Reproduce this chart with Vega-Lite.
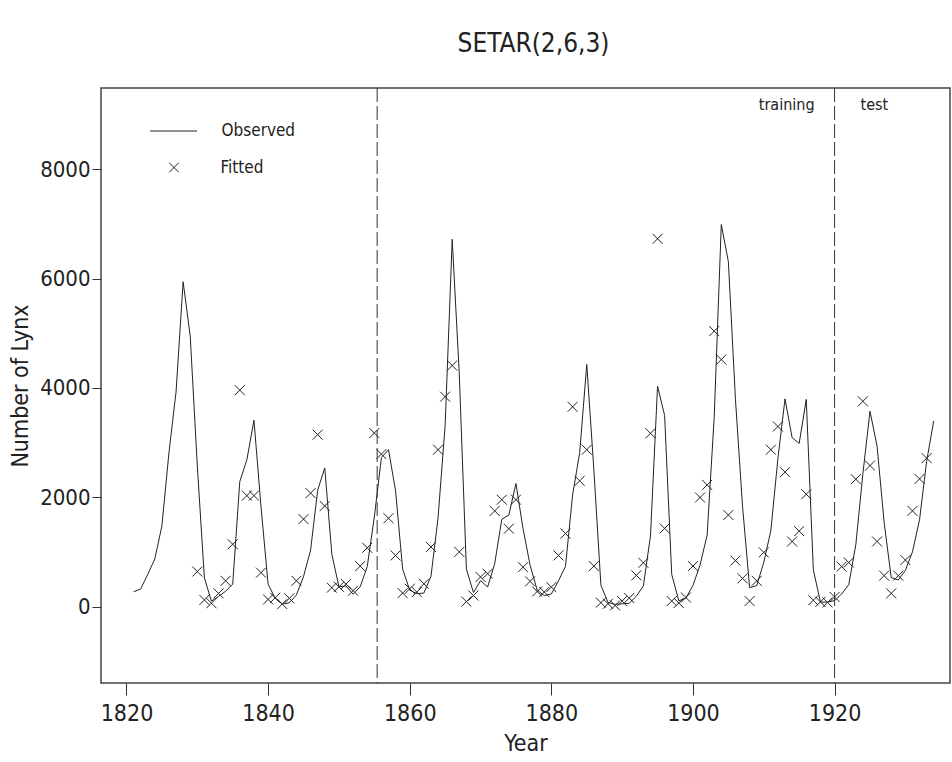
{
  "$schema": "https://vega.github.io/schema/vega-lite/v6.json",
  "width": 849,
  "height": 595,
  "autosize": {"type": "none"},
  "padding": {"left": 101, "top": 88, "right": 2, "bottom": 79},
  "background": "white",
  "title": {"text": "SETAR(2,6,3)", "fontSize": 26, "font": "DejaVu Sans Condensed, sans-serif", "fontWeight": "normal", "color": "#222", "offset": 31, "anchor": "middle", "dx": 8},
  "config": {
    "font": "DejaVu Sans Condensed, sans-serif",
    "view": {"stroke": "#444", "strokeWidth": 1.5},
    "axis": {"grid": false, "domain": false, "tickColor": "#333", "labelColor": "#222", "titleColor": "#222", "titleFontWeight": "normal"}
  },
  "datasets": {
    "lynx": [
      {"year": 1821, "observed": 269, "fitted": null},
      {"year": 1822, "observed": 321, "fitted": null},
      {"year": 1823, "observed": 585, "fitted": null},
      {"year": 1824, "observed": 871, "fitted": null},
      {"year": 1825, "observed": 1475, "fitted": null},
      {"year": 1826, "observed": 2821, "fitted": null},
      {"year": 1827, "observed": 3928, "fitted": null},
      {"year": 1828, "observed": 5943, "fitted": null},
      {"year": 1829, "observed": 4950, "fitted": null},
      {"year": 1830, "observed": 2577, "fitted": 640},
      {"year": 1831, "observed": 523, "fitted": 120},
      {"year": 1832, "observed": 98, "fitted": 60},
      {"year": 1833, "observed": 184, "fitted": 240},
      {"year": 1834, "observed": 279, "fitted": 470},
      {"year": 1835, "observed": 409, "fitted": 1140},
      {"year": 1836, "observed": 2285, "fitted": 3960},
      {"year": 1837, "observed": 2685, "fitted": 2030},
      {"year": 1838, "observed": 3409, "fitted": 2030},
      {"year": 1839, "observed": 1824, "fitted": 620},
      {"year": 1840, "observed": 409, "fitted": 130},
      {"year": 1841, "observed": 151, "fitted": 160},
      {"year": 1842, "observed": 45, "fitted": 45},
      {"year": 1843, "observed": 68, "fitted": 150},
      {"year": 1844, "observed": 213, "fitted": 470},
      {"year": 1845, "observed": 546, "fitted": 1600},
      {"year": 1846, "observed": 1033, "fitted": 2075},
      {"year": 1847, "observed": 2129, "fitted": 3145},
      {"year": 1848, "observed": 2536, "fitted": 1840},
      {"year": 1849, "observed": 957, "fitted": 345},
      {"year": 1850, "observed": 361, "fitted": 360},
      {"year": 1851, "observed": 377, "fitted": 410},
      {"year": 1852, "observed": 225, "fitted": 290},
      {"year": 1853, "observed": 360, "fitted": 740},
      {"year": 1854, "observed": 731, "fitted": 1075},
      {"year": 1855, "observed": 1638, "fitted": 3175},
      {"year": 1856, "observed": 2725, "fitted": 2790},
      {"year": 1857, "observed": 2871, "fitted": 1615},
      {"year": 1858, "observed": 2119, "fitted": 935},
      {"year": 1859, "observed": 684, "fitted": 245},
      {"year": 1860, "observed": 299, "fitted": 325},
      {"year": 1861, "observed": 236, "fitted": 265},
      {"year": 1862, "observed": 245, "fitted": 415},
      {"year": 1863, "observed": 552, "fitted": 1090},
      {"year": 1864, "observed": 1623, "fitted": 2870},
      {"year": 1865, "observed": 3311, "fitted": 3840},
      {"year": 1866, "observed": 6721, "fitted": 4410},
      {"year": 1867, "observed": 4254, "fitted": 1000},
      {"year": 1868, "observed": 687, "fitted": 90},
      {"year": 1869, "observed": 255, "fitted": 200},
      {"year": 1870, "observed": 473, "fitted": 540},
      {"year": 1871, "observed": 358, "fitted": 600},
      {"year": 1872, "observed": 784, "fitted": 1750},
      {"year": 1873, "observed": 1594, "fitted": 1955},
      {"year": 1874, "observed": 1676, "fitted": 1425},
      {"year": 1875, "observed": 2251, "fitted": 1955},
      {"year": 1876, "observed": 1426, "fitted": 720},
      {"year": 1877, "observed": 756, "fitted": 460},
      {"year": 1878, "observed": 299, "fitted": 275},
      {"year": 1879, "observed": 201, "fitted": 265},
      {"year": 1880, "observed": 229, "fitted": 355},
      {"year": 1881, "observed": 469, "fitted": 935},
      {"year": 1882, "observed": 736, "fitted": 1335},
      {"year": 1883, "observed": 2042, "fitted": 3655},
      {"year": 1884, "observed": 2811, "fitted": 2300},
      {"year": 1885, "observed": 4431, "fitted": 2870},
      {"year": 1886, "observed": 2511, "fitted": 740},
      {"year": 1887, "observed": 389, "fitted": 70},
      {"year": 1888, "observed": 73, "fitted": 50},
      {"year": 1889, "observed": 39, "fitted": 20},
      {"year": 1890, "observed": 49, "fitted": 100},
      {"year": 1891, "observed": 59, "fitted": 155},
      {"year": 1892, "observed": 188, "fitted": 570},
      {"year": 1893, "observed": 377, "fitted": 800},
      {"year": 1894, "observed": 1292, "fitted": 3170},
      {"year": 1895, "observed": 4031, "fitted": 6730},
      {"year": 1896, "observed": 3495, "fitted": 1430},
      {"year": 1897, "observed": 587, "fitted": 100},
      {"year": 1898, "observed": 105, "fitted": 65},
      {"year": 1899, "observed": 153, "fitted": 165},
      {"year": 1900, "observed": 387, "fitted": 740},
      {"year": 1901, "observed": 758, "fitted": 1995},
      {"year": 1902, "observed": 1307, "fitted": 2225},
      {"year": 1903, "observed": 3465, "fitted": 5040},
      {"year": 1904, "observed": 6991, "fitted": 4520},
      {"year": 1905, "observed": 6313, "fitted": 1675},
      {"year": 1906, "observed": 3794, "fitted": 840},
      {"year": 1907, "observed": 1836, "fitted": 515},
      {"year": 1908, "observed": 345, "fitted": 100},
      {"year": 1909, "observed": 382, "fitted": 470},
      {"year": 1910, "observed": 808, "fitted": 990},
      {"year": 1911, "observed": 1388, "fitted": 2870},
      {"year": 1912, "observed": 2713, "fitted": 3295},
      {"year": 1913, "observed": 3800, "fitted": 2460},
      {"year": 1914, "observed": 3091, "fitted": 1190},
      {"year": 1915, "observed": 2985, "fitted": 1380},
      {"year": 1916, "observed": 3790, "fitted": 2055},
      {"year": 1917, "observed": 674, "fitted": 115},
      {"year": 1918, "observed": 81, "fitted": 85},
      {"year": 1919, "observed": 80, "fitted": 75},
      {"year": 1920, "observed": 108, "fitted": 175},
      {"year": 1921, "observed": 229, "fitted": 730},
      {"year": 1922, "observed": 399, "fitted": 805},
      {"year": 1923, "observed": 1132, "fitted": 2330},
      {"year": 1924, "observed": 2432, "fitted": 3755},
      {"year": 1925, "observed": 3574, "fitted": 2580},
      {"year": 1926, "observed": 2935, "fitted": 1190},
      {"year": 1927, "observed": 1537, "fitted": 565},
      {"year": 1928, "observed": 529, "fitted": 240},
      {"year": 1929, "observed": 485, "fitted": 565},
      {"year": 1930, "observed": 662, "fitted": 850},
      {"year": 1931, "observed": 1000, "fitted": 1750},
      {"year": 1932, "observed": 1590, "fitted": 2335},
      {"year": 1933, "observed": 2657, "fitted": 2715},
      {"year": 1934, "observed": 3396, "fitted": null}
    ],
    "splits": [{"year": 1855.4}, {"year": 1920}],
    "annot": [
      {"label": "training", "year": 1920, "level": 9080},
      {"label": "test", "year": 1920, "level": 9080}
    ]
  },
  "layer": [
    {
      "data": {"name": "lynx"},
      "mark": {"type": "line", "strokeWidth": 1, "color": "#222"},
      "encoding": {
        "x": {"field": "year", "type": "quantitative", "scale": {"domain": [1816.4, 1936.3], "nice": false, "zero": false},
          "axis": {"title": "Year", "values": [1820, 1840, 1860, 1880, 1900, 1920], "format": "d", "tickSize": 12, "labelPadding": 7, "labelFontSize": 23, "titleFontSize": 23, "titlePadding": 7}},
        "y": {"field": "observed", "type": "quantitative", "scale": {"domain": [-1400, 9490], "nice": false, "zero": false},
          "axis": {"title": "Number of Lynx", "values": [0, 2000, 4000, 6000, 8000], "format": "d", "tickSize": 9, "labelPadding": 2, "labelFontSize": 22, "titleFontSize": 23, "titlePadding": 7}},
        "stroke": {"datum": "Observed", "scale": {"domain": ["Observed"], "range": ["#222"]},
          "legend": {"title": null, "orient": "none", "legendX": 48.5, "legendY": 19, "padding": 0, "symbolSize": 2209, "symbolStrokeWidth": 1, "symbolType": "stroke", "labelFontSize": 17, "labelOffset": 24, "labelColor": "#222"}}
      }
    },
    {
      "data": {"name": "lynx"},
      "transform": [{"filter": "isValid(datum.fitted)"}],
      "mark": {"type": "point", "filled": false, "strokeWidth": 1, "color": "#222", "size": 100, "opacity": 1},
      "encoding": {
        "x": {"field": "year", "type": "quantitative"},
        "y": {"field": "fitted", "type": "quantitative"},
        "shape": {"datum": "Fitted", "scale": {"domain": ["Fitted"], "range": ["M-1,-1L1,1M-1,1L1,-1"]},
          "legend": {"title": null, "orient": "none", "legendX": 64.5, "legendY": 71, "padding": 0, "symbolSize": 90, "symbolStrokeWidth": 1, "symbolStrokeColor": "#222", "labelFontSize": 17, "labelOffset": 38, "labelColor": "#222"}}
      }
    },
    {
      "data": {"name": "splits"},
      "mark": {"type": "rule", "strokeDash": [14, 4], "strokeWidth": 1, "color": "#333"},
      "encoding": {"x": {"field": "year", "type": "quantitative"}}
    },
    {
      "data": {"name": "annot"},
      "transform": [{"filter": "datum.label == 'training'"}],
      "mark": {"type": "text", "align": "right", "baseline": "alphabetic", "dx": -20, "fontSize": 16, "color": "#222"},
      "encoding": {"x": {"field": "year", "type": "quantitative"}, "y": {"field": "level", "type": "quantitative"}, "text": {"field": "label"}}
    },
    {
      "data": {"name": "annot"},
      "transform": [{"filter": "datum.label == 'test'"}],
      "mark": {"type": "text", "align": "left", "baseline": "alphabetic", "dx": 26, "fontSize": 16, "color": "#222"},
      "encoding": {"x": {"field": "year", "type": "quantitative"}, "y": {"field": "level", "type": "quantitative"}, "text": {"field": "label"}}
    }
  ]
}
